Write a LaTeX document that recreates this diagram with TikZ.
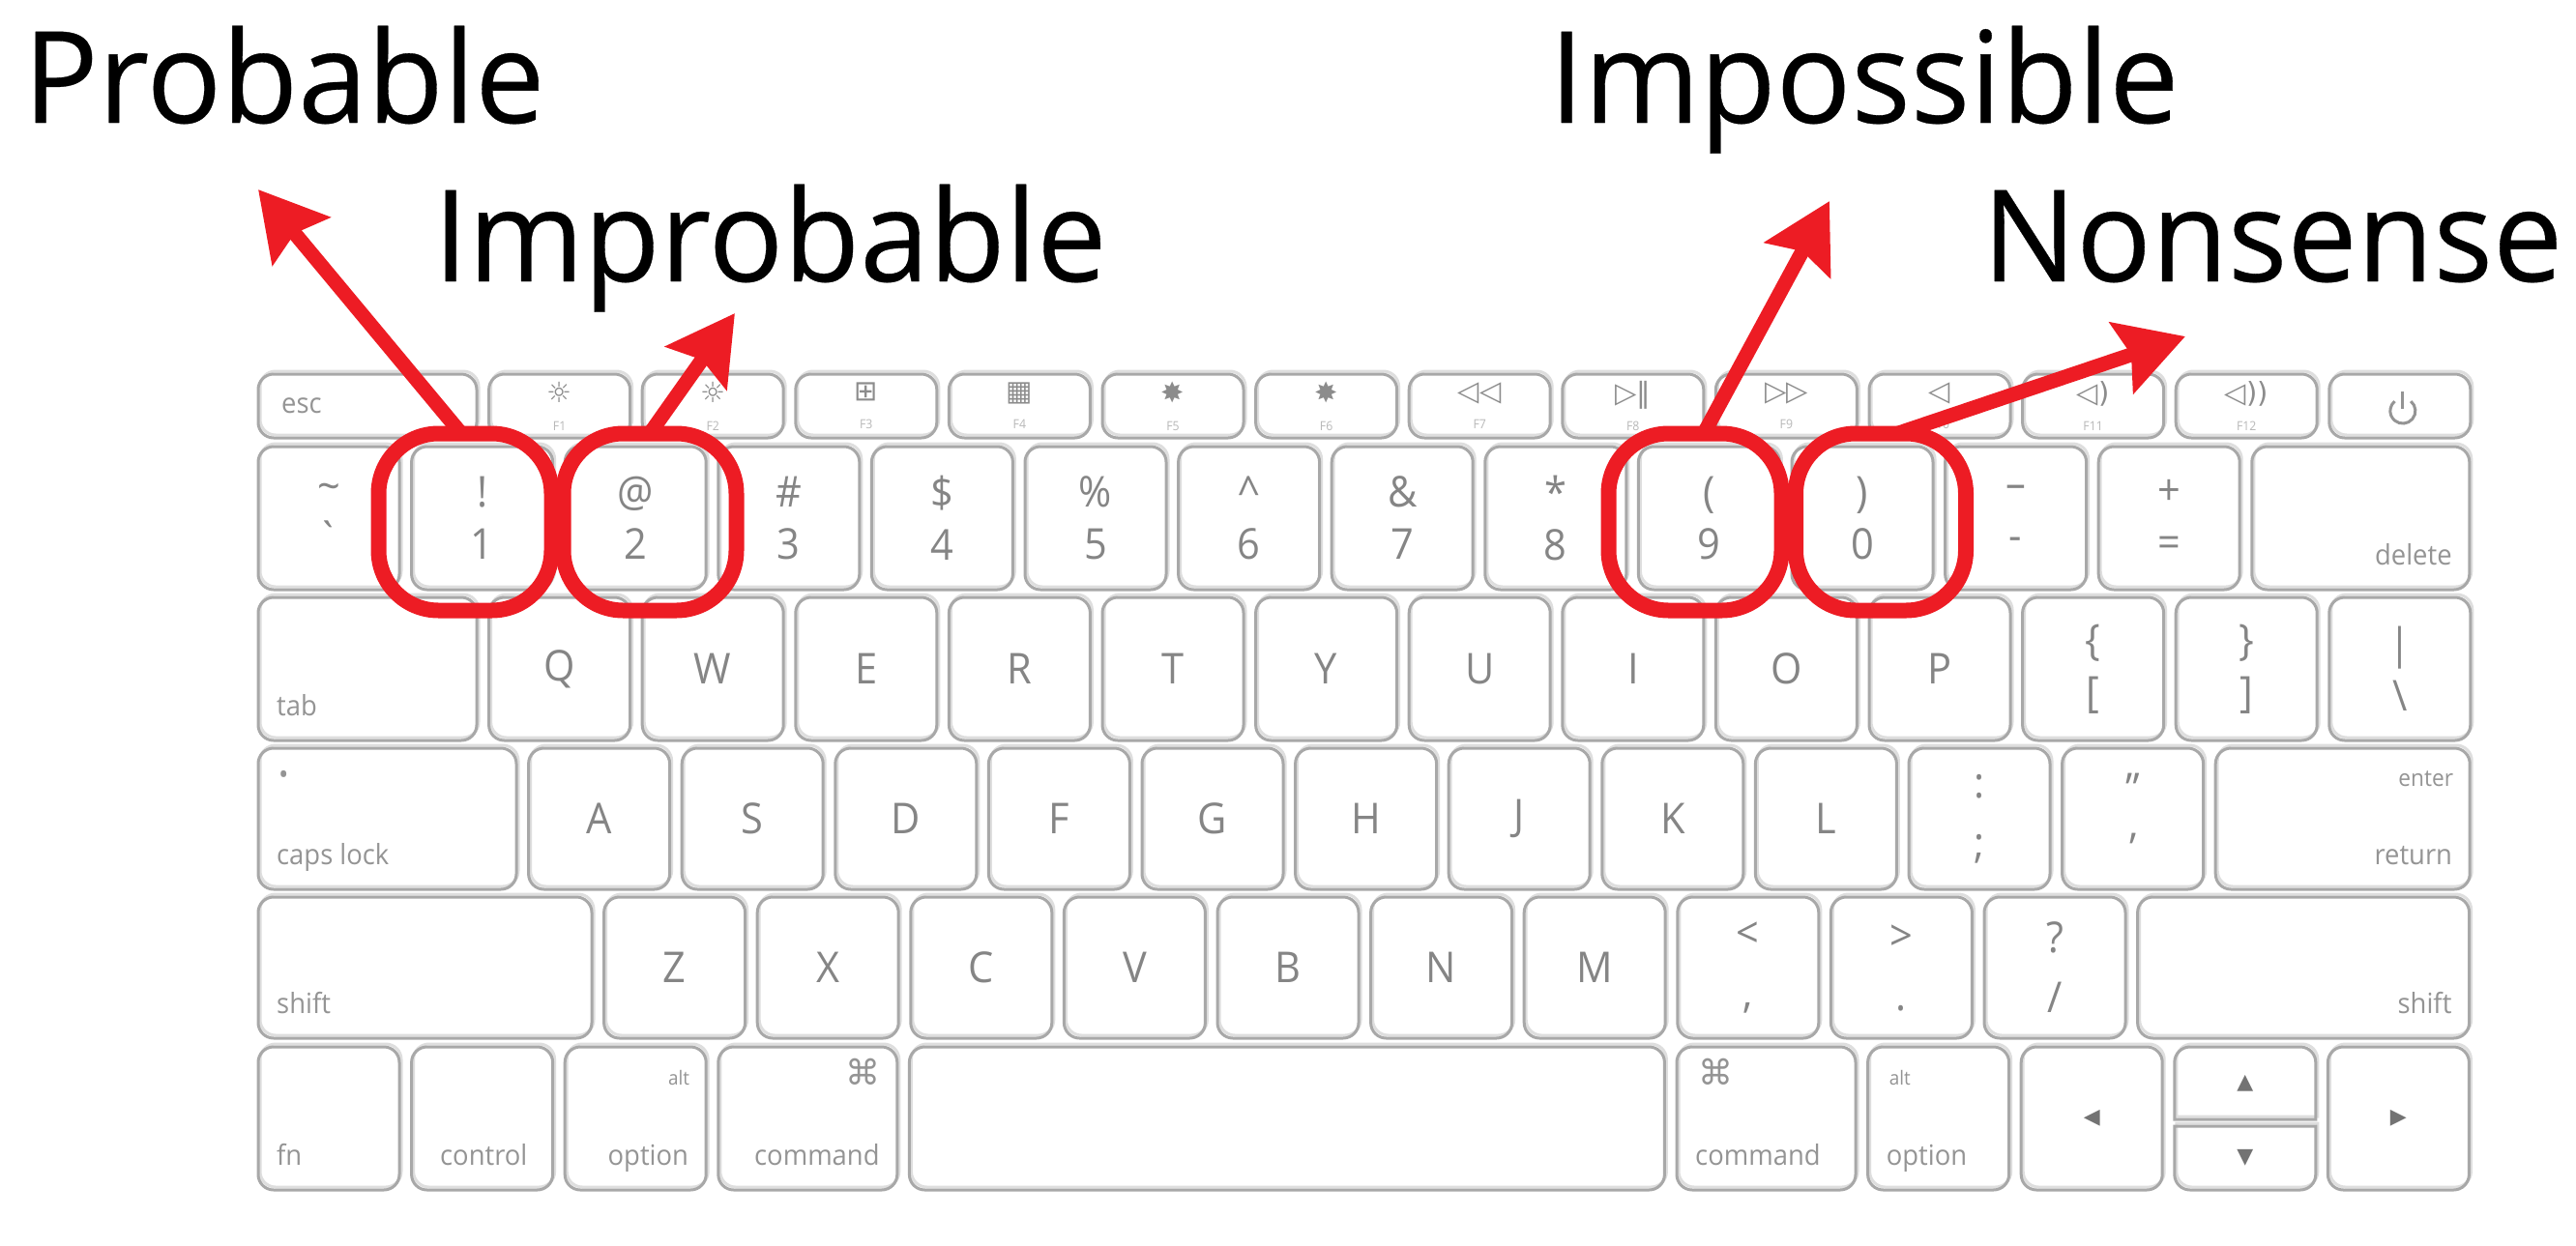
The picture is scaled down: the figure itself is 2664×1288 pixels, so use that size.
\documentclass[tikz,border=0pt]{standalone}
\usepackage{fontspec}
\setmainfont[FakeStretch=0.945]{Open Sans}
\newfontfamily\iconfont{DejaVu Sans}
\newfontfamily\ratingfont[FakeStretch=0.975,FakeBold=0.25]{Open Sans}
\usepackage{xcolor}
\usetikzlibrary{arrows.meta,positioning}
\definecolor{markred}{HTML}{ED1C24}
\newcommand{\keyfont}{\fontsize{44}{54}\selectfont}
\newcommand{\widefont}{\fontsize{44}{62}\selectfont}
\newcommand{\notefont}{\fontsize{29}{29}\selectfont}
\newcommand{\altfont}{\fontsize{20}{20}\selectfont}
\newcommand{\fnfont}{\fontsize{13}{29}\selectfont}
\newcommand{\cmdsym}{{\iconfont\fontsize{36}{36}\selectfont ⌘}}
\newcommand{\fwdslash}{/}
\newcommand{\cma}{,}

\begin{document}
\begin{tikzpicture}[
  x=1pt, y=-1pt,
  node distance=12.6pt,
  keyline/.style={draw=black!34, line width=3pt,
    preaction={draw=black!13, line width=3pt, transform canvas={xshift=2pt, yshift=3pt}}},
  keycap/.style={keyline, rounded corners=16pt, inner sep=0pt, outer sep=0pt, align=center,
    minimum width=146pt, minimum height=148pt, text=black!48, font=\keyfont},
  fncap/.style={keycap, minimum height=66pt, text=black!28, font=\fnfont},
  halfkey/.style={inner sep=0pt, outer sep=0pt, minimum width=146pt, text=black!55, font=\iconfont\fontsize{22}{22}\selectfont},
  note/.style={inner sep=0pt, text=black!42, font=\notefont, text height=21pt, text depth=7pt},
  swnote/.style={label={[note, anchor=south west, xshift=19pt, yshift=18pt]south west:#1}},
  senote/.style={label={[note, anchor=south east, xshift=-18pt, yshift=18pt]south east:#1}},
  nwnote/.style={label={[note, anchor=north west, xshift=22pt, yshift=-18pt]north west:#1}},
  nenote/.style={label={[note, anchor=north east, xshift=-17pt, yshift=-18pt]north east:#1}},
  wnote/.style={label={[note, anchor=west, xshift=24pt]west:#1}},
  markbox/.style={draw=markred, line width=16pt, rounded corners=62pt, inner sep=0pt, outer sep=0pt, minimum height=183pt},
  markarr/.style={draw=markred, line width=15pt, -{Stealth[length=69pt,width=76pt,inset=10pt]}},
  rating/.style={inner sep=0pt, anchor=base west, font=\ratingfont\fontsize{132}{132}\selectfont}
]
\useasboundingbox[fill=white] (0,0) rectangle (2664,1288);

% function row
\node[fncap, minimum width=226pt, anchor=west, wnote=esc] (fkey0) at (267,420) {};
\foreach \icon/\fname [count=\i from 1, remember=\i as \j (initially 0)] in
  {☼/F1,☼/F2,⊞/F3,▦/F4,✸/F5,✸/F6,◁◁/F7,▷‖/F8,▷▷/F9,◁/F10,◁)/F11,◁))/F12,{}/{}}
  \node[fncap, right=of fkey\j] (fkey\i) {{\iconfont\fontsize{29}{26}\selectfont\textcolor{black!45}{\icon}}\\\fname};
\draw[black!42, line width=3pt] ([xshift=11.4pt,yshift=4.9pt]fkey13.center) arc[start angle=50, end angle=-230, radius=13pt];
\draw[black!42, line width=3pt] ([xshift=3pt,yshift=15pt]fkey13.center) -- ([xshift=3pt,yshift=-3pt]fkey13.center);

% number row
\node[keycap, anchor=west] (num1) at (267,536) {\textasciitilde\\\textasciigrave};
\foreach \upper/\lower [count=\i from 2, remember=\i as \j (initially 1)] in
  {!/1,@/2,\#/3,\$/4,\%/5,\textasciicircum/6,\&/7,*/8,{(}/9,{)}/0,–/-,+/=}
  \node[keycap, right=of num\j] (num\i) {\upper\\\lower};
\node[keycap, minimum width=225pt, right=of num13, senote=delete] (delete) {};

% letter rows
\node[keycap, minimum width=226pt, anchor=west, swnote=tab] (top0) at (267,692) {};
\foreach \letter [count=\i from 1, remember=\i as \j (initially 0)] in {Q,W,E,R,T,Y,U,I,O,P}
  \node[keycap, right=of top\j] (top\i) {\letter};
\node[keycap, right=of top10] (lbrace) {\{\\{[}};
\node[keycap, right=of lbrace] (rbrace) {\}\\{]}};
\node[keycap, right=of rbrace] (bslash) {|\\\textbackslash};

\node[keycap, minimum height=146pt, minimum width=267pt, anchor=west, swnote=caps lock] (home0) at (267,847) {};
\node[note, anchor=north west] (capsdot) at (288,790) {\textbullet};
\foreach \letter [count=\i from 1, remember=\i as \j (initially 0)] in {A,S,D,F,G,H,J,K,L}
  \node[keycap, minimum height=146pt, right=of home\j] (home\i) {\letter};
\node[keycap, minimum height=146pt, font=\widefont, right=of home9] (colon) {:\\;};
\node[keycap, minimum height=146pt, font=\widefont, right=of colon] (quote) {”\\’};
\node[keycap, minimum height=146pt, minimum width=263pt, right=of quote, senote=return, nenote={\fontsize{24}{24}\selectfont enter}] (return) {};

\node[keycap, minimum height=146pt, minimum width=345pt, anchor=west, swnote=shift] (low0) at (267,1001) {};
\foreach \letter [count=\i from 1, remember=\i as \j (initially 0)] in {Z,X,C,V,B,N,M}
  \node[keycap, minimum height=146pt, right=of low\j] (low\i) {\letter};
\node[keycap, minimum height=146pt, font=\widefont, right=of low7] (less) {<\\\cma};
\node[keycap, minimum height=146pt, font=\widefont, right=of less] (more) {>\\.};
\node[keycap, minimum height=146pt, font=\widefont, right=of more] (query) {?\\\fwdslash};
\node[keycap, minimum height=146pt, minimum width=343pt, right=of query, senote=shift] (rshift) {};

% bottom row
\node[keycap, anchor=west, swnote=fn] (fn) at (267,1157) {};
\node[keycap, right=of fn, label={[note, anchor=south east, xshift=-26pt, yshift=18pt]south east:control}] (control) {};
\node[keycap, right=of control, senote=option, nenote={\altfont alt}] (loption) {};
\node[keycap, minimum width=185pt, right=of loption, senote=command, nenote=\cmdsym] (lcommand) {};
\node[keycap, minimum width=781pt, right=of lcommand] (space) {};
\node[keycap, minimum width=185pt, right=of space, swnote=command, nwnote=\cmdsym] (rcommand) {};
\node[keycap, right=of rcommand, swnote=option, nwnote={\altfont alt}] (roption) {};
\node[keycap, right=of roption, text=black!55, font=\iconfont\fontsize{22}{22}\selectfont] (leftkey) {◀};
\node[halfkey, minimum height=75pt, anchor=north west] (upkey) at ([xshift=12.6pt]leftkey.north east) {▲};
\node[halfkey, minimum height=66pt, below=7pt of upkey] (downkey) {▼};
\node[keycap, right=171.2pt of leftkey, text=black!55, font=\iconfont\fontsize{22}{22}\selectfont] (rightkey) {▶};
\draw[keyline] (upkey.south west) [rounded corners=16pt] -- (upkey.north west) -- (upkey.north east) [sharp corners] -- (upkey.south east) -- cycle;
\draw[keyline] (downkey.north east) [rounded corners=16pt] -- (downkey.south east) -- (downkey.south west) [sharp corners] -- (downkey.north west) -- cycle;

% marked keys
\node[markbox, minimum width=179pt] (onebox) at (481,540) {};
\node[markbox, minimum width=179pt] (twobox) at (672,540) {};
\node[markbox, minimum width=179pt] (ninebox) at (1753,540) {};
\node[markbox, minimum width=176pt] (zerobox) at (1945,540) {};

\node[rating] (probable) at (24,127) {Probable};
\node[rating] (improbable) at (448,291) {Improbable};
\node[rating] (impossible) at (1602,127) {Impossible};
\node[rating] (nonsense) at (2050,291) {Nonsense};

\coordinate (probabletip) at (267,196);
\coordinate (improbabletip) at (760,324);
\coordinate (impossibletip) at (1892,208);
\coordinate (nonsensetip) at (2260,348);

\draw[markarr] ([xshift=-4pt]onebox.north) -- (probabletip);
\draw[markarr] (twobox.north) -- (improbabletip);
\draw[markarr] ([xshift=9pt]ninebox.north) -- (impossibletip);
\draw[markarr] ([xshift=17pt]zerobox.north) -- (nonsensetip);
\end{tikzpicture}
\end{document}
